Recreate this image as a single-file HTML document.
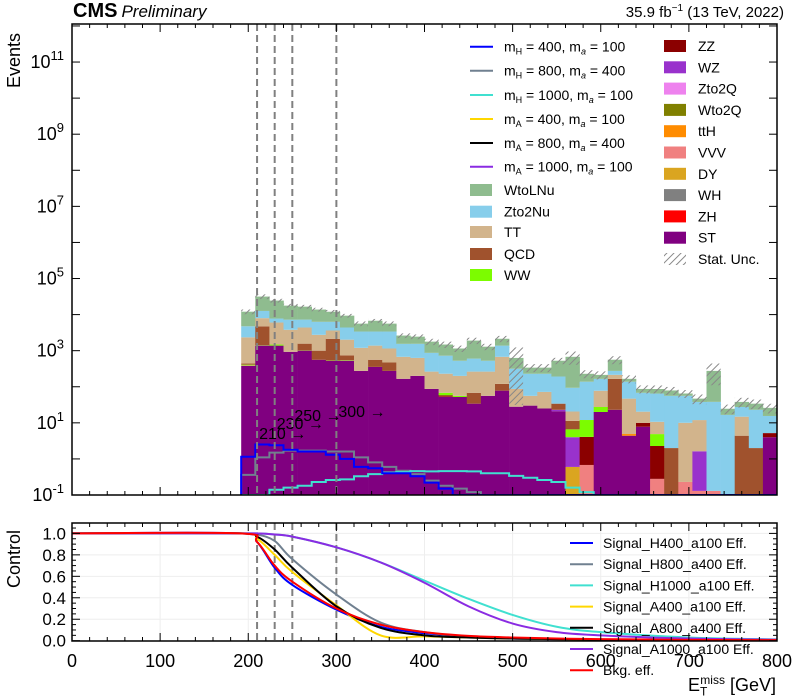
<!DOCTYPE html>
<html><head><meta charset="utf-8"><style>
body{margin:0;background:#fff;}
svg{display:block;font-family:"Liberation Sans",sans-serif;}
</style></head><body>
<svg id="c" width="800" height="700" viewBox="0 0 800 700" xmlns="http://www.w3.org/2000/svg">
<defs>
<pattern id="hatch" width="5" height="5" patternUnits="userSpaceOnUse" patternTransform="rotate(45)">
<line x1="0" y1="0" x2="0" y2="5" stroke="#888" stroke-width="2"/></pattern>
<clipPath id="clipMain"><rect x="72" y="24" width="705" height="471"/></clipPath>
<clipPath id="clipLow"><rect x="72" y="523" width="705" height="118"/></clipPath>
</defs>
<g id="main"></g>
<g id="low"></g>
<g id="txt"></g>
</svg>
<script>
const binStart = 192, binWidth = 16;
const ST   = [380,1380,1380,930,1000,560,525,525,275,355,275,166,200,87,52,52,34,56,78,28,30,25,21,0,0,20,23,4.4,7.8,0,0,0,0,0,0,0,0,4];
const DY   = [0,0,0,0,0,0,0,0,0,0,0,0,0,0,0,0,0,0,0,0,0,0,0,0.6,0,0,0,0,0,0,0,0,0,0,0,0,0,0];
const VVV  = [10,0,0,0,0,0,0,0,0,0,0,0,0,0,1,0,0,0,0,0,0,0,0,0,0.68,0,0,0,0,0.28,0,0.23,0.13,0.13,0,0,0,0];
const ttH  = [0,0,0,0,0,0,0,0,0,0,0,0,0,0,0,0,0,0,0,0,0,0,0,0,0,0,0,0.5,0,0,0,0,0,0,0,0,0,0];
const WZ   = [0,0,0,0,0,0,0,0,0,0,0,0,0,0,0,0,0,0,0,0,0,0,2,3.4,0,0,0,0,0,0,0,0,1.5,0,0,0,0,0];
const ZZ   = [0,0,0,0,0,0,0,0,0,0,0,0,0,0,5,0,0,0,0,0,0,0,0,0,3.4,0,0,0,2.2,2,0,0,0,0,0,0,0,1.2];
const WW   = [20,30,100,0,15,0,10,15,0,0,0,0,0,0,10,4,0,0,0,0,0,0,0,2.6,7.9,7.5,0,0,0,2.6,0,0,0,0,0,0,0,0];
const QCD  = [30,3300,0,0,550,440,1600,200,0,205,195,0,0,0,0,0,34,0,42,0,0,0,11,4.7,0,0,143,0,0,0,2,0,0,0,0,4.4,2,0];
const TT   = [1900,3260,4550,2870,2820,1750,1490,1280,925,820,680,510,430,176,162,144,195,207,556,59,26,47,0,9.3,0,50,48,42,10.4,5.8,0,9.8,10.3,0,0,10.4,0,0];
const Zto2Nu = [2400,4650,1730,3440,2870,3560,2680,2370,2190,2010,2240,870,920,607,495,325,340,262,704,229,173,157,158,73,126,88,61,91,47.6,54,54,46,26,38,16.6,12.7,21,10.3];
const WtoLNu = [7300,19000,16700,10500,9360,7490,5700,4960,2230,3370,2230,1080,900,910,756,625,1300,765,760,314,110,110,335,583,91,48,287,28,19,22,23,9,9,237,8,10.5,11,10.5];
const relUnc = [0.15,0.15,0.12,0.12,0.12,0.12,0.12,0.12,0.15,0.12,0.15,0.15,0.15,0.2,0.2,0.2,0.2,0.2,0.2,0.95,0.25,0.25,0.2,0.4,0.25,0.25,0.25,0.25,0.25,0.25,0.25,0.25,0.3,0.6,0.3,0.3,0.3,0.3];
const sigH400  = [1.15,2.5,2.4,1.8,1.6,1.6,1.3,1.0,0.6,0.55,0.4,0.4,0.33,0.22,0.15,0.1,0.07,0.05,0.03,0,0,0,0,0,0,0,0,0,0,0,0,0,0,0,0,0,0,0];
const sigH800  = [0.36,1.1,1.5,1.7,1.7,1.7,1.6,1.6,1.1,0.8,0.6,0.47,0.38,0.25,0.18,0.15,0.12,0.08,0.05,0,0,0,0,0,0,0,0,0,0,0,0,0,0,0,0,0,0,0];
const sigH1000 = [0.05,0.09,0.14,0.16,0.18,0.23,0.26,0.27,0.33,0.38,0.42,0.43,0.46,0.45,0.46,0.46,0.45,0.4,0.4,0.34,0.3,0.26,0.23,0.16,0.12,0.09,0.06,0.04,0,0,0,0,0,0,0,0,0,0];
const effX      = [0,190,210,230,250,300,350,400,450,500,550,600,700,800];
const effBkg    = [1,1,0.92,0.70,0.55,0.30,0.15,0.08,0.045,0.03,0.02,0.015,0.008,0.005];
const effH400   = [1,1,0.92,0.68,0.52,0.29,0.13,0.07,0.04,0.02,0.015,0.01,0.005,0.003];
const effA400   = [1,1,0.95,0.80,0.64,0.33,0.05,0.04,0.03,0.02,0.015,0.01,0.005,0.003];
const effA800   = [1,1,0.97,0.85,0.68,0.32,0.12,0.05,0.03,0.02,0.015,0.01,0.005,0.003];
const effH800   = [1,1,0.99,0.93,0.76,0.43,0.17,0.08,0.04,0.02,0.015,0.01,0.005,0.003];
const effH1000  = [1,1,1,0.99,0.97,0.87,0.73,0.56,0.39,0.24,0.13,0.08,0.03,0.012];
const effA1000  = [1,1,1,0.99,0.97,0.87,0.73,0.54,0.32,0.16,0.08,0.05,0.02,0.01];
const cutValues = [210,230,250,300];
const xTicks = [0,100,200,300,400,500,600,700,800];
const yDecadeLabels = [-1,1,3,5,7,9,11];
const lowTicks = [0,0.2,0.4,0.6,0.8,1.0];

const NS="http://www.w3.org/2000/svg";
function el(tag,attrs,parent){const e=document.createElementNS(NS,tag);for(const k in attrs)e.setAttribute(k,attrs[k]);parent.appendChild(e);return e;}
const X=v=>72+v*(705/800);
const Y=v=>495-(Math.log10(Math.max(v,0.1))+1)*36.08;
const YL=v=>640.7-v*107.3;
const main=document.getElementById('main'), low=document.getElementById('low'), txt=document.getElementById('txt');
const gm=el('g',{'clip-path':'url(#clipMain)'},main);
const procs=[[ST,'#800080','ST'],[DY,'#daa520','DY'],[VVV,'#f08080','VVV'],[ttH,'#ff8c00','ttH'],[WZ,'#9932cc','WZ'],[ZZ,'#8b0000','ZZ'],[WW,'#7cfc00','WW'],[QCD,'#a0522d','QCD'],[TT,'#d2b48c','TT'],[Zto2Nu,'#87ceeb','Zto2Nu'],[WtoLNu,'#8fbc8f','WtoLNu']];
const n=ST.length;
for(let i=0;i<n;i++){
  const x0=X(binStart+i*binWidth), x1=X(binStart+(i+1)*binWidth);
  let cum=0;
  for(const [arr,col,nm] of procs){
    const v=arr[i]; if(v<=0) continue;
    const lo=cum, hi=cum+v; cum=hi;
    const r=el('rect',{x:x0,y:Y(hi),width:x1-x0+0.3,height:Math.max(0,Y(lo>0?lo:0.1)-Y(hi)),fill:col},gm);
    
    
  }
  const up=cum*(1+relUnc[i]), dn=cum*Math.max(0.01,1-relUnc[i]);
  const h=el('rect',{x:x0,y:Y(up),width:x1-x0,height:Y(dn)-Y(up),fill:'url(#hatch)'},gm);
  
  
}
function stepLine(arr,col,name){
  let d='M'+X(binStart)+','+495;
  for(let i=0;i<arr.length;i++){const y=Y(arr[i]);d+=' L'+X(binStart+i*binWidth)+','+y+' L'+X(binStart+(i+1)*binWidth)+','+y;}
  const p=el('path',{d:d,fill:'none',stroke:col,'stroke-width':2},gm);
  
  
}
stepLine(sigH800,'#708090','signal-h800-a400');
stepLine(sigH1000,'#40e0d0','signal-h1000-a100');
stepLine(sigH400,'#0000ff','signal-h400-a100');
// lower panel grid + curves
const gl=el('g',{'clip-path':'url(#clipLow)'},low);
lowTicks.forEach(v=>{el('line',{x1:72,x2:777,y1:YL(v),y2:YL(v),stroke:'#eee'},gl);});
xTicks.forEach(v=>{el('line',{x1:X(v),x2:X(v),y1:523,y2:641,stroke:'#eee'},gl);});
// cut lines and annotations
const annY=[433,423,415,411];
cutValues.forEach((c,k)=>{
  const l=el('line',{x1:X(c),x2:X(c),y1:24,y2:495,stroke:'#808080','stroke-width':2,'stroke-dasharray':'7,4'},main);
  
  
  const l2=el('line',{x1:X(c),x2:X(c),y1:523,y2:641,stroke:'#808080','stroke-width':2,'stroke-dasharray':'7,4'},gl);
  
  
  const t=el('text',{x:X(c)+2,y:annY[k]+6,'font-size':16,fill:'#000'},main);
  t.textContent=c+' \u2192';
  
  
});
// main axes frame
el('rect',{x:72,y:24,width:705,height:471,fill:'none',stroke:'#000','stroke-width':1.5},main);
for(let v=0;v<=800;v+=20){const maj=v%100==0,L=maj?8:4;
  el('line',{x1:X(v),x2:X(v),y1:495,y2:495-L,stroke:'#000'},main);
  el('line',{x1:X(v),x2:X(v),y1:24,y2:24+L,stroke:'#000'},main);
  el('line',{x1:X(v),x2:X(v),y1:641,y2:641-L,stroke:'#000'},low);
  el('line',{x1:X(v),x2:X(v),y1:523,y2:523+L,stroke:'#000'},low);
}
for(let d=-1;d<=12;d++){const y=Y(Math.pow(10,d));if(y<24)continue;
  el('line',{x1:72,x2:80,y1:y,y2:y,stroke:'#000'},main);
  el('line',{x1:777,x2:769,y1:y,y2:y,stroke:'#000'},main);}
yDecadeLabels.forEach(d=>{
  const t=el('text',{x:64,y:Y(Math.pow(10,d))+6,'font-size':18,'text-anchor':'end'},txt);
  t.innerHTML='10<tspan dy="-8" font-size="13">'+d+'</tspan>';
  
  
});
const effs=[[effH400,'#0000ff','eff-h400'],[effH800,'#708090','eff-h800'],[effH1000,'#40e0d0','eff-h1000'],[effA400,'#ffd700','eff-a400'],[effA800,'#000000','eff-a800'],[effA1000,'#8a2be2','eff-a1000'],[effBkg,'#ff0000','eff-bkg']];
effs.forEach(([arr,col,nm])=>{
  const pts=effX.map((x,i)=>[X(x),YL(arr[i])]);
  let d='M'+pts[0][0]+','+pts[0][1];
  for(let i=0;i<pts.length-1;i++){
    const p0=pts[Math.max(0,i-1)],p1=pts[i],p2=pts[i+1],p3=pts[Math.min(pts.length-1,i+2)];
    const c1=[p1[0]+(p2[0]-p0[0])/6,p1[1]+(p2[1]-p0[1])/6],c2=[p2[0]-(p3[0]-p1[0])/6,p2[1]-(p3[1]-p1[1])/6];
    d+=' C'+c1+' '+c2+' '+p2;
  }
  const p=el('path',{d:d,fill:'none',stroke:col,'stroke-width':2},gl);
  
  
});
el('rect',{x:72,y:523,width:705,height:118,fill:'none',stroke:'#000','stroke-width':1.5},low);
for(let v=0;v<=1.1;v+=0.05){const maj=Math.abs(v*5-Math.round(v*5))<1e-6,L=maj?8:4;
  el('line',{x1:72,x2:72+L,y1:YL(v),y2:YL(v),stroke:'#000'},low);
  el('line',{x1:777,x2:777-L,y1:YL(v),y2:YL(v),stroke:'#000'},low);}
lowTicks.forEach(v=>{const t=el('text',{x:66,y:YL(v)+6,'font-size':17,'text-anchor':'end'},txt);t.textContent=v.toFixed(1);
  
  });
xTicks.forEach(v=>{const t=el('text',{x:X(v),y:667,'font-size':18,'text-anchor':'middle'},txt);t.textContent=v;
  
  });
// legends
const leg1=[['#0000ff','m<tspan font-size="9" dy="3">H</tspan><tspan dy="-3"> = 400, m</tspan><tspan font-size="9" dy="3" font-style="italic">a</tspan><tspan dy="-3"> = 100</tspan>'],
['#708090','m<tspan font-size="9" dy="3">H</tspan><tspan dy="-3"> = 800, m</tspan><tspan font-size="9" dy="3" font-style="italic">a</tspan><tspan dy="-3"> = 400</tspan>'],
['#40e0d0','m<tspan font-size="9" dy="3">H</tspan><tspan dy="-3"> = 1000, m</tspan><tspan font-size="9" dy="3" font-style="italic">a</tspan><tspan dy="-3"> = 100</tspan>'],
['#ffd700','m<tspan font-size="9" dy="3">A</tspan><tspan dy="-3"> = 400, m</tspan><tspan font-size="9" dy="3" font-style="italic">a</tspan><tspan dy="-3"> = 100</tspan>'],
['#000000','m<tspan font-size="9" dy="3">A</tspan><tspan dy="-3"> = 800, m</tspan><tspan font-size="9" dy="3" font-style="italic">a</tspan><tspan dy="-3"> = 400</tspan>'],
['#8a2be2','m<tspan font-size="9" dy="3">A</tspan><tspan dy="-3"> = 1000, m</tspan><tspan font-size="9" dy="3" font-style="italic">a</tspan><tspan dy="-3"> = 100</tspan>']];
const ly=[46.7,70.7,95,119,143,166.7,190,211.7,232,254,275];
leg1.forEach(([c,h],i)=>{
  el('line',{x1:470,x2:493,y1:ly[i],y2:ly[i],stroke:c,'stroke-width':2},txt);
  const t=el('text',{x:504,y:ly[i]+5,'font-size':14},txt);t.innerHTML=h;
  
  });
const leg1b=[['#8fbc8f','WtoLNu'],['#87ceeb','Zto2Nu'],['#d2b48c','TT'],['#a0522d','QCD'],['#7cfc00','WW']];
leg1b.forEach(([c,s],i)=>{const y=ly[6+i];
  el('rect',{x:470,y:y-6,width:22,height:12,fill:c},txt);
  const t=el('text',{x:504,y:y+5,'font-size':14},txt);t.textContent=s;
  
  });
const leg2=[['#8b0000','ZZ'],['#9932cc','WZ'],['#ee82ee','Zto2Q'],['#808000','Wto2Q'],['#ff8c00','ttH'],['#f08080','VVV'],['#daa520','DY'],['#808080','WH'],['#ff0000','ZH'],['#800080','ST'],['url(#hatch)','Stat. Unc.']];
leg2.forEach(([c,s],i)=>{const y=46+i*21.3;
  el('rect',{x:664,y:y-6,width:22,height:12,fill:c},txt);
  const t=el('text',{x:698,y:y+5,'font-size':14},txt);t.textContent=s;
  
  });
const leg3=[['#0000ff','Signal_H400_a100 Eff.'],['#708090','Signal_H800_a400 Eff.'],['#40e0d0','Signal_H1000_a100 Eff.'],['#ffd700','Signal_A400_a100 Eff.'],['#000000','Signal_A800_a400 Eff.'],['#8a2be2','Signal_A1000_a100 Eff.'],['#ff0000','Bkg. eff.']];
leg3.forEach(([c,s],i)=>{const y=543+i*21.2;
  el('line',{x1:570,x2:593,y1:y,y2:y,stroke:c,'stroke-width':2},txt);
  const t=el('text',{x:603,y:y+5,'font-size':14},txt);t.textContent=s;
  
  });
</script>
<div style="position:absolute;left:0;top:0;width:800px;height:700px;pointer-events:none;font-family:'Liberation Sans',sans-serif;">
<div style="position:absolute;left:73px;top:0px;font-size:20px;font-weight:bold;">CMS<span style="font-weight:normal;font-style:italic;font-size:17px;margin-left:4px;">Preliminary</span></div>
<div style="position:absolute;right:16px;top:3px;font-size:15px;">35.9 fb<sup style="font-size:10px;">&minus;1</sup> (13 TeV, 2022)</div>
<div style="position:absolute;left:4px;top:88px;font-size:18px;transform:rotate(-90deg);transform-origin:left top;">Events</div>
<div style="position:absolute;left:4px;top:588px;font-size:18px;transform:rotate(-90deg);transform-origin:left top;">Control</div>
<div style="position:absolute;right:24px;top:673px;font-size:18px;">E<sub style="font-size:12px;">T</sub><sup style="font-size:12px;margin-left:-7px;">miss</sup> [GeV]</div>
</div>
</body></html>
